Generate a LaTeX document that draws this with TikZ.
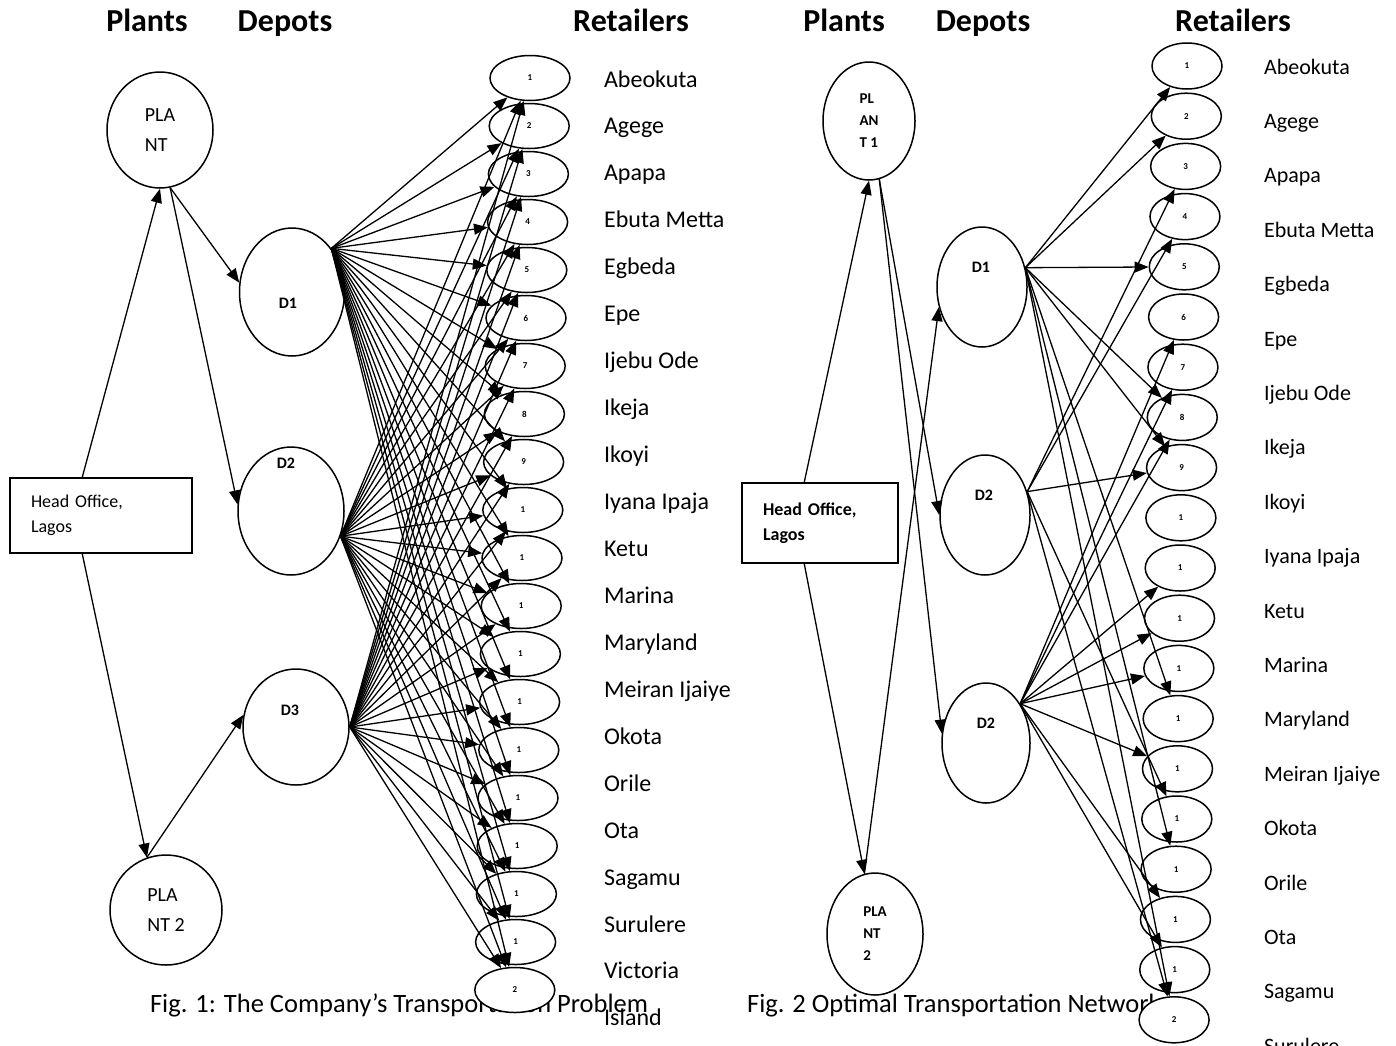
\documentclass[tikz,border=0pt]{standalone}
\usepackage{fontspec}
\setmainfont{Carlito}
\usetikzlibrary{shapes.geometric, positioning, arrows.meta, calc}

\begin{document}
\begin{tikzpicture}[
x=1pt, y=-1pt, line width=1.5pt,
    plant/.style={ellipse, draw, fill=white, inner sep=0pt, align=left},
    depot/.style={ellipse, draw, fill=white, inner sep=0pt},
    dlabel/.style={font=\bfseries\fontsize{16}{16}\selectfont},
    retailer/.style={ellipse, draw, fill=white, inner sep=0pt, font=\bfseries\fontsize{9}{9}\selectfont},
    office/.style={rectangle, draw, fill=white, inner sep=0pt, align=left},
    heading/.style={font=\bfseries\fontsize{32}{32}\selectfont, anchor=base},
    caption/.style={font=\fontsize{26.5}{26.5}\selectfont, anchor=base west},
    town/.style={anchor=base west, align=left},
    arrow/.style={draw, line width=1.3pt, -{Triangle[length=14pt, width=11pt]}}
]
    \useasboundingbox (0,0) rectangle (1396,1045);

    % ---------- Fig. 1 ----------
    % Headings
    \node[heading] (plantsA) at (147,31) {Plants};
    \node[heading] (depotsA) at (285,31) {Depots};
    \node[heading] (retailersA) at (631,31) {Retailers};

    % Caption
    \node[caption] (capA) at (146,1012) {Fig. 1: The Company’s Transportation Problem};

    % Plants and head office
    \node[plant, minimum width=106pt, minimum height=116pt, font=\fontsize{20}{30}\selectfont] (plant1) at (160,130) {PLA\\NT};
    \node[plant, minimum width=112pt, minimum height=110pt, font=\fontsize{20}{30}\selectfont] (plant2) at (166,910) {PLA\\NT 2};
    \node[office, minimum width=182pt, minimum height=75pt, text width=140pt, font=\fontsize{18}{25}\selectfont] (office) at (101,515.5) {Head Office,\\Lagos};

    % Depots
    \node[depot, minimum width=105pt, minimum height=128pt] (depot1) at (292,292) {};
    \node[depot, minimum width=106pt, minimum height=128pt] (depot2) at (291,511) {};
    \node[depot, minimum width=106pt, minimum height=116pt] (depot3) at (296,727) {};
    \node[dlabel] (d1text) at (288,303) {D1};
    \node[dlabel] (d2text) at (286,463) {D2};
    \node[dlabel] (d3text) at (290,710) {D3};

    % Retailers
    \foreach \n [count=\i] in {1,2,3,4,5,6,7,8,9,1,1,1,1,1,1,1,1,1,1,2}
        \node[retailer, minimum width=80pt, minimum height=45pt] (ret\i) at ({530-0.8*(\i-1)}, {78+48*(\i-1)}) {\n};
    \foreach \name [count=\i] in {Abeokuta, Agege, Apapa, Ebuta Metta, Egbeda, Epe, Ijebu Ode, Ikeja, Ikoyi, Iyana Ipaja, Ketu, Marina, Maryland, Meiran Ijaiye, Okota, Orile, Ota, Sagamu, Surulere}
        \node[town, font=\fontsize{24}{47}\selectfont] (town\i) at (600, {87+46.95*(\i-1)}) {\name};
    \node[town, font=\fontsize{24}{47}\selectfont] (town20) at (600,1025) {Victoria\\Island};

    % Edges - head office to plants to depots
    \draw[arrow] ([xshift=73pt]office.north west) -- (plant1.south);
    \draw[arrow] (plant1.-80) -- (depot1.170);
    \draw[arrow] (plant1.-80) -- (depot2.173);
    \draw[arrow] ([xshift=73pt]office.south west) -- (plant2.110);
    \draw[arrow] (plant2.110) -- (depot3.167);

    % Edges - every depot to every retailer
    \foreach \i in {1,...,20} {
        \draw[arrow] (depot1.48) -- (ret\i);
        \draw[arrow] (depot2.-27) -- (ret\i);
        \draw[arrow] (depot3.east) -- (ret\i);
    }

    % ---------- Fig. 2 ----------
    % Headings
    \node[heading] (plantsB) at (844,31) {Plants};
    \node[heading] (depotsB) at (983,31) {Depots};
    \node[heading] (retailersB) at (1233,31) {Retailers};

    % Caption
    \node[caption] (capB) at (743,1012) {Fig. 2 Optimal Transportation Network};

    % Plants and head office
    \node[plant, minimum width=92pt, minimum height=118pt, font=\bfseries\fontsize{15}{22}\selectfont] (oplant1) at (869,121) {PL\\AN\\T 1};
    \node[plant, minimum width=96pt, minimum height=122pt, font=\bfseries\fontsize{15}{22}\selectfont] (oplant2) at (875,934) {PLA\\NT\\2};
    \node[office, minimum width=156pt, minimum height=80pt, text width=114pt, font=\bfseries\fontsize{18}{25}\selectfont] (ooffice) at (820,523) {Head Office,\\Lagos};

    % Depots
    \node[depot, minimum width=90pt, minimum height=120pt] (odepot1) at (982,287) {};
    \node[depot, minimum width=90pt, minimum height=120pt] (odepot2) at (985,515) {};
    \node[depot, minimum width=88pt, minimum height=120pt] (odepot3) at (986,743) {};
    \node[dlabel] (od1text) at (981,267) {D1};
    \node[dlabel] (od2text) at (984,495) {D2};
    \node[dlabel] (od3text) at (986,723) {D2};

    % Retailers
    \foreach \n [count=\i] in {1,2,3,4,5,6,7,8,9,1,1,1,1,1,1,1,1,1,1,2}
        \node[retailer, minimum width=70pt, minimum height=46pt] (oret\i) at ({1187-0.68*(\i-1)}, {66+50.2*(\i-1)}) {\n};
    \foreach \name [count=\i] in {Abeokuta, Agege, Apapa, Ebuta Metta, Egbeda, Epe, Ijebu Ode, Ikeja, Ikoyi, Iyana Ipaja, Ketu, Marina, Maryland, Meiran Ijaiye, Okota, Orile, Ota, Sagamu, Surulere}
        \node[town, font=\fontsize{22}{22}\selectfont] (otown\i) at (1260, {74+54.4*(\i-1)}) {\name};

    % Edges - head office to plants to depots
    \draw[arrow] ([xshift=63pt]ooffice.north west) -- (oplant1.south);
    \draw[arrow] ([xshift=63pt]ooffice.south west) -- (oplant2.100);
    \draw[arrow] (oplant1.-80) -- (odepot2.west);
    \draw[arrow] (oplant1.-80) -- (odepot3.168);
    \draw[arrow] (oplant2.100) -- (odepot1.205);

    % Edges - optimal depot to retailer routes
    \foreach \i in {1,2,5,8,9,14,17,20}
        \draw[arrow] (odepot1.24) -- (oret\i);
    \foreach \i in {3,4,9,16,20}
        \draw[arrow] (odepot2.29) -- (oret\i);
    \foreach \i in {6,7,8,11,12,13,15,18,19}
        \draw[arrow] (odepot3.49) -- (oret\i);

\end{tikzpicture}
\end{document}
